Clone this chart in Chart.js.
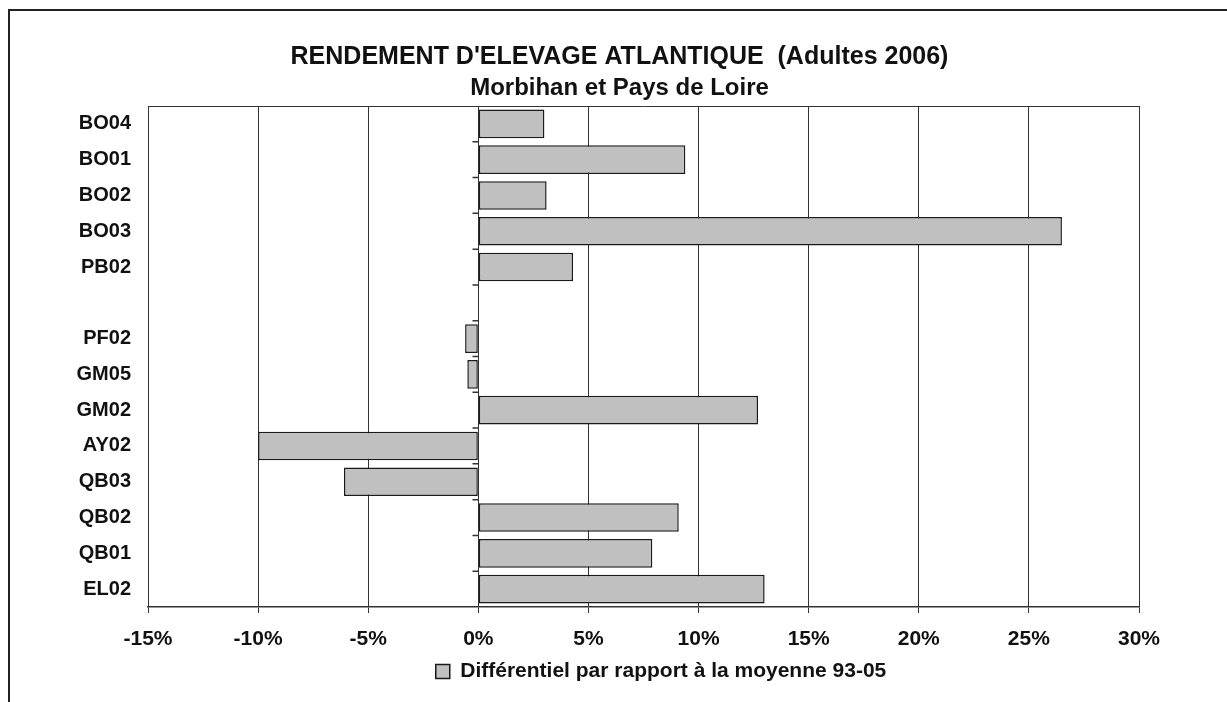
<!DOCTYPE html>
<html>
<head>
<meta charset="utf-8">
<script src="https://cdn.jsdelivr.net/npm/chart.js@4/dist/chart.umd.min.js"></script>
<style>
  html, body { margin: 0; padding: 0; background: #fff; }
  canvas { display: block; }
</style>
</head>
<body>
<canvas id="myChart" width="1227" height="702"></canvas>
<script>
// stations, top to bottom (the blank one is the gap between the two groups)
const stations = ["BO04", "BO01", "BO02", "BO03", "PB02", "", "PF02", "GM05", "GM02", "AY02", "QB03", "QB02", "QB01", "EL02"];
// differentiel in % vs the 93-05 mean
const differentiel = [3.0, 9.4, 3.1, 26.5, 4.3, null, -0.6, -0.5, 12.7, -10.0, -6.1, 9.1, 7.9, 13.0];
const xTicks = [-15, -10, -5, 0, 5, 10, 15, 20, 25, 30];

const FONT = "'Liberation Sans', Arial, sans-serif";
const LINE = '#333333';

// frame of the whole chart + top of plot area + little ticks on the category axis (at 0)
const excelBits = {
    id: 'excelBits',
    afterLayout(chart) {
        // excel put the legend a bit right of the middle
        const lg = chart.legend;
        if (lg) {
            const dx = 661 - (lg.left + lg.right) / 2;
            lg.left += dx;
            lg.right += dx;
        }
    },
    afterDraw(chart) {
        const c = chart.ctx;
        const area = chart.chartArea;
        const x = chart.scales.x;
        const y = chart.scales.y;
        c.save();
        c.strokeStyle = '#222';
        c.lineWidth = 2;
        c.beginPath();
        c.moveTo(9, chart.height);
        c.lineTo(9, 10);
        c.lineTo(chart.width, 10);
        c.stroke();

        c.strokeStyle = LINE;
        c.lineWidth = 1;
        c.beginPath();
        c.moveTo(area.left, area.top + 0.5);
        c.lineTo(area.right, area.top + 0.5);
        c.stroke();

        const zero = Math.round(x.getPixelForValue(0)) + 0.5;
        c.lineWidth = 1.5;
        c.beginPath();
        for (let i = 0; i < stations.length - 1; i++) {
            const yy = (y.getPixelForValue(i) + y.getPixelForValue(i + 1)) / 2;
            c.moveTo(zero - 6, yy);
            c.lineTo(zero, yy);
        }
        c.stroke();
        c.restore();
    }
};

const ctx = document.getElementById("myChart");
new Chart(ctx, {
    type: 'bar',
    data: {
        labels: stations,
        datasets: [{
            label: 'Différentiel par rapport à la moyenne 93-05',
            data: differentiel,
            backgroundColor: '#c0c0c0',
            borderColor: '#1a1a1a',
            borderWidth: 1.5,
            borderSkipped: false,
            categoryPercentage: 1,
            barPercentage: 0.8
        }]
    },
    options: {
        indexAxis: 'y',
        responsive: false,
        animation: false,
        devicePixelRatio: 1,
        layout: {
            padding: { left: 14, right: 2, top: 0, bottom: 10 }
        },
        scales: {
            x: {
                min: -15,
                max: 30,
                afterBuildTicks(scale) {
                    scale.ticks = xTicks.map(v => ({ value: v }));
                },
                afterFit(scale) { scale.height = 48; },
                grid: {
                    color: LINE,
                    lineWidth: 1,
                    tickLength: 6,
                    tickColor: LINE
                },
                border: { color: LINE, width: 1.5 },
                ticks: {
                    padding: 14,
                    color: '#111',
                    font: { family: FONT, size: 21, weight: 'bold' },
                    callback: v => v + '%'
                }
            },
            y: {
                afterFit(scale) { scale.width = 134; },
                grid: { display: false, drawTicks: false },
                border: { display: false },
                ticks: {
                    padding: 17,
                    autoSkip: false,
                    color: '#111',
                    font: { family: FONT, size: 20, weight: 'bold' }
                }
            },
            // empty right margin (keeps title centred on the whole chart)
            y2: {
                type: 'category',
                position: 'right',
                afterFit(scale) { scale.width = 86; },
                grid: { display: false, drawTicks: false },
                border: { display: false },
                ticks: { display: false }
            }
        },
        plugins: {
            title: {
                display: true,
                text: "RENDEMENT D'ELEVAGE ATLANTIQUE  (Adultes 2006)",
                color: '#111',
                font: { family: FONT, size: 25, weight: 'bold', lineHeight: 1.2 },
                padding: { top: 42, bottom: 0 }
            },
            subtitle: {
                display: true,
                text: 'Morbihan et Pays de Loire',
                color: '#111',
                font: { family: FONT, size: 24, weight: 'bold', lineHeight: 1.2 },
                padding: { top: 1.5, bottom: 3.7 }
            },
            legend: {
                position: 'bottom',
                labels: {
                    boxWidth: 14,
                    boxHeight: 14,
                    padding: 6,
                    color: '#111',
                    font: { family: FONT, size: 21, weight: 'bold' }
                }
            },
            tooltip: { enabled: false }
        }
    },
    plugins: [excelBits]
});
</script>
</body>
</html>
